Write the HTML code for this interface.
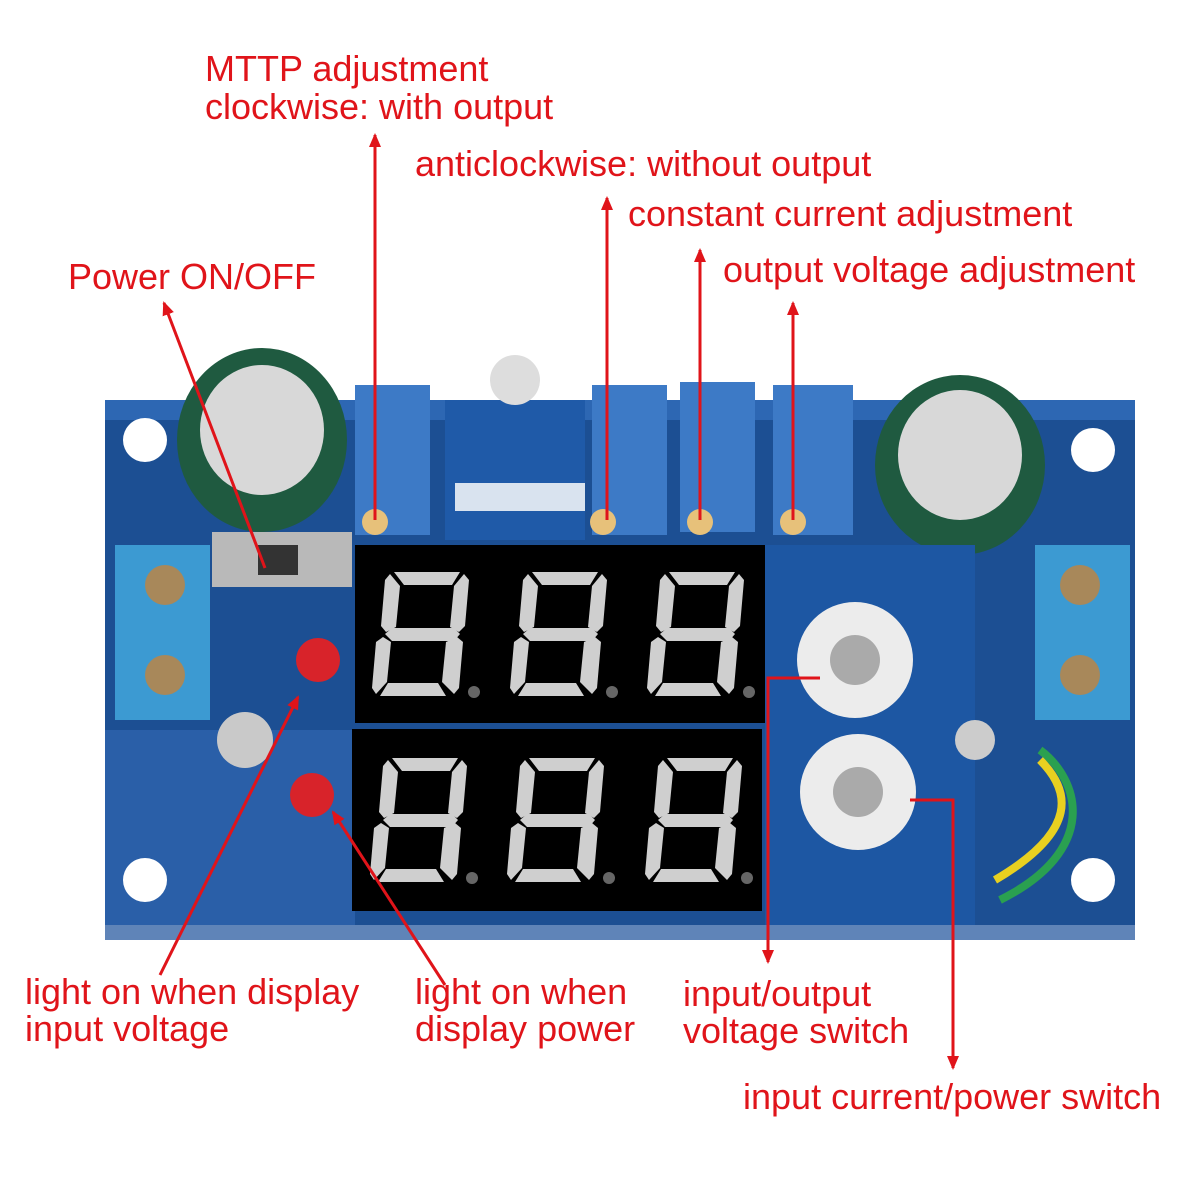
<!DOCTYPE html>
<html><head><meta charset="utf-8"><style>
html,body{margin:0;padding:0;background:#fff;width:1200px;height:1200px;overflow:hidden}
svg{display:block}
text{font-family:"Liberation Sans",sans-serif;fill:#e0141a;font-size:36px}
</style></head><body>
<svg width="1200" height="1200" viewBox="0 0 1200 1200" xmlns="http://www.w3.org/2000/svg">
<defs>
<g id="dg" fill="#cfcfcf">
<polygon points="24,0 90,0 82,13 34,13"/>
<polygon points="22,56 84,56 90,62 84,69 22,69 15,62"/>
<polygon points="10,124 76,124 68,111 18,111"/>
<polygon points="20,2 30,14 26,55 16,60 11,54 15,8"/>
<polygon points="94,2 99,8 95,54 89,60 80,55 84,14"/>
<polygon points="13,65 21,70 17,110 6,122 2,116 6,70"/>
<polygon points="87,65 93,70 89,116 84,122 72,110 76,70"/>
<circle cx="104" cy="120" r="6" fill="#666"/>
</g>
<marker id="ah" markerWidth="14" markerHeight="14" refX="12" refY="7" orient="auto" markerUnits="userSpaceOnUse" viewBox="0 0 14 14"><path d="M0,1 L14,7 L0,13z" fill="#e0141a"/></marker>
</defs>
<rect x="105" y="400" width="1030" height="540" fill="#1c4f93"/>
<rect x="105" y="730" width="250" height="210" fill="#2a5fa8"/>
<rect x="105" y="400" width="1030" height="20" fill="#2d67b3"/>
<rect x="105" y="925" width="1030" height="15" fill="#5f84b8"/>
<circle cx="145" cy="440" r="22" fill="#fff"/><circle cx="1093" cy="450" r="22" fill="#fff"/>
<circle cx="145" cy="880" r="22" fill="#fff"/><circle cx="1093" cy="880" r="22" fill="#fff"/>
<rect x="355" y="385" width="75" height="150" fill="#3d7ac6"/>
<rect x="592" y="385" width="75" height="150" fill="#3d7ac6"/>
<rect x="680" y="382" width="75" height="150" fill="#3d7ac6"/>
<rect x="773" y="385" width="80" height="150" fill="#3d7ac6"/>
<rect x="445" y="400" width="140" height="140" fill="#1f5aa8"/>
<circle cx="515" cy="380" r="25" fill="#ddd"/>
<rect x="455" y="483" width="130" height="28" fill="#d9e3ef"/>
<circle cx="375" cy="522" r="13" fill="#e7c17a"/><circle cx="603" cy="522" r="13" fill="#e7c17a"/>
<circle cx="700" cy="522" r="13" fill="#e7c17a"/><circle cx="793" cy="522" r="13" fill="#e7c17a"/>
<ellipse cx="262" cy="440" rx="85" ry="92" fill="#1f5a40"/><ellipse cx="262" cy="430" rx="62" ry="65" fill="#d8d8d8"/>
<ellipse cx="960" cy="465" rx="85" ry="90" fill="#1f5a40"/><ellipse cx="960" cy="455" rx="62" ry="65" fill="#d8d8d8"/>
<rect x="115" y="545" width="95" height="175" fill="#3c9ad2"/>
<circle cx="165" cy="585" r="20" fill="#a8885a"/><circle cx="165" cy="675" r="20" fill="#a8885a"/>
<rect x="1035" y="545" width="95" height="175" fill="#3c9ad2"/>
<circle cx="1080" cy="585" r="20" fill="#a8885a"/><circle cx="1080" cy="675" r="20" fill="#a8885a"/>
<rect x="212" y="532" width="140" height="55" fill="#b9b9b9"/><rect x="258" y="545" width="40" height="30" fill="#333"/>
<circle cx="245" cy="740" r="28" fill="#c9c9c9"/>
<circle cx="318" cy="660" r="22" fill="#d8232a"/><circle cx="312" cy="795" r="22" fill="#d8232a"/>
<rect x="765" y="545" width="210" height="380" fill="#1d57a3"/>
<circle cx="855" cy="660" r="58" fill="#ececec"/><circle cx="855" cy="660" r="25" fill="#aaa"/>
<circle cx="858" cy="792" r="58" fill="#ececec"/><circle cx="858" cy="792" r="25" fill="#aaa"/>
<circle cx="975" cy="740" r="20" fill="#ccc"/>
<path d="M1000,900 C1100,850 1080,780 1040,750" stroke="#2aa050" stroke-width="8" fill="none"/>
<path d="M995,880 C1080,830 1070,790 1040,760" stroke="#e8d020" stroke-width="8" fill="none"/>
<rect x="355" y="545" width="410" height="178" fill="#000"/>
<rect x="352" y="729" width="410" height="182" fill="#000"/>
<g transform="translate(370,572)"><use href="#dg"/></g>
<g transform="translate(508,572)"><use href="#dg"/></g>
<g transform="translate(645,572)"><use href="#dg"/></g>
<g transform="translate(368,758)"><use href="#dg"/></g>
<g transform="translate(505,758)"><use href="#dg"/></g>
<g transform="translate(643,758)"><use href="#dg"/></g>
<g stroke="#e0141a" stroke-width="3" fill="none">
<line x1="375" y1="520" x2="375" y2="135" marker-end="url(#ah)"/>
<line x1="607" y1="520" x2="607" y2="198" marker-end="url(#ah)"/>
<line x1="700" y1="520" x2="700" y2="250" marker-end="url(#ah)"/>
<line x1="793" y1="520" x2="793" y2="303" marker-end="url(#ah)"/>
<line x1="265" y1="568" x2="164" y2="303" marker-end="url(#ah)"/>
<line x1="160" y1="975" x2="298" y2="697" marker-end="url(#ah)"/>
<line x1="445" y1="985" x2="333" y2="812" marker-end="url(#ah)"/>
<polyline points="820,678 768,678 768,962" marker-end="url(#ah)"/>
<polyline points="910,800 953,800 953,1068" marker-end="url(#ah)"/>
</g>
<text x="205" y="81">MTTP adjustment</text>
<text x="205" y="119">clockwise: with output</text>
<text x="415" y="176">anticlockwise: without output</text>
<text x="628" y="226">constant current adjustment</text>
<text x="723" y="282">output voltage adjustment</text>
<text x="68" y="289">Power ON/OFF</text>
<text x="25" y="1004">light on when display</text>
<text x="25" y="1041">input voltage</text>
<text x="415" y="1004">light on when</text>
<text x="415" y="1041">display power</text>
<text x="683" y="1006">input/output</text>
<text x="683" y="1043">voltage switch</text>
<text x="743" y="1109">input current/power switch</text>
</svg>
</body></html>
